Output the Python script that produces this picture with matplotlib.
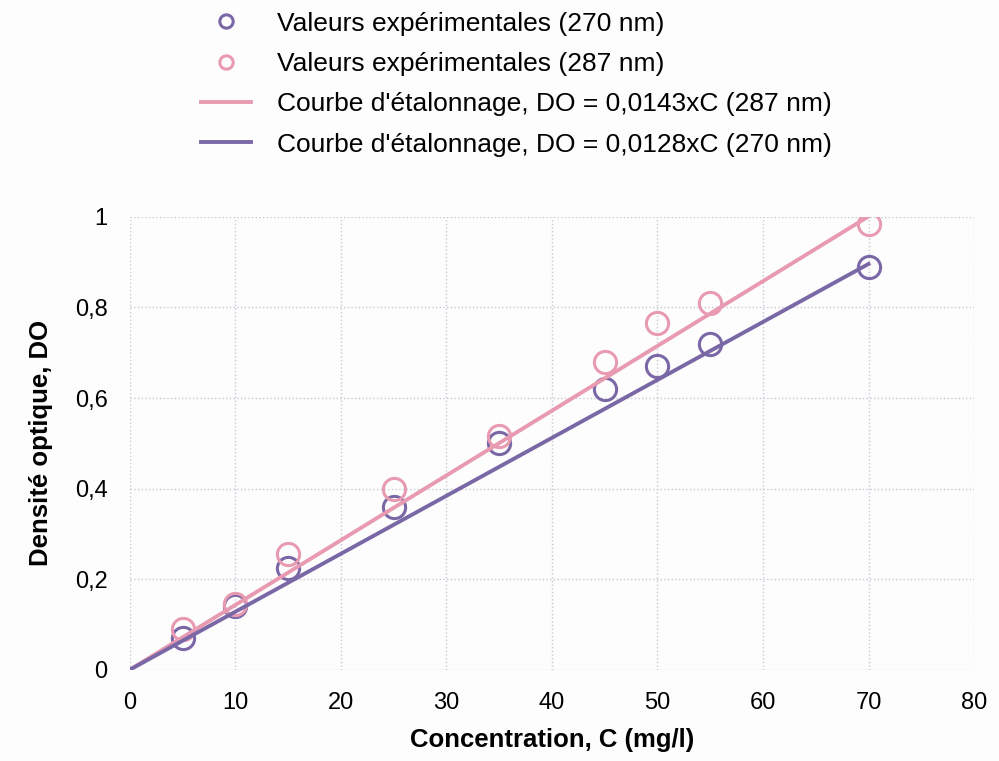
import matplotlib
matplotlib.use("Agg")
import matplotlib.pyplot as plt
import numpy as np

plt.rcParams['font.family'] = ['Liberation Sans', 'DejaVu Sans']

conc = [5, 10, 15, 25, 35, 45, 50, 55, 70]
do_270 = [0.07, 0.14, 0.225, 0.36, 0.50, 0.62, 0.67, 0.72, 0.89]
do_287 = [0.09, 0.145, 0.255, 0.40, 0.515, 0.68, 0.765, 0.81, 0.985]
slope_287 = 0.0143
slope_270 = 0.0128
fit_x = [0, 70]
xticks = [0, 10, 20, 30, 40, 50, 60, 70, 80]
yticks = [0, 0.2, 0.4, 0.6, 0.8, 1.0]
ytick_labels = ['0', '0,2', '0,4', '0,6', '0,8', '1']

c_270 = '#7a68a6'
c_287 = '#e89ab0'

fig = plt.figure(figsize=(9.99, 7.61), dpi=100)
fig.patch.set_facecolor('#fdfdfe')
ax = fig.add_axes([0.13, 0.12, 0.845, 0.595])
ax.set_facecolor('#fdfdfe')

ax.plot(conc, do_270, linestyle='none', marker='o', markersize=16, markerfacecolor='none',
        markeredgecolor=c_270, markeredgewidth=2.2, label='Valeurs expérimentales (270 nm)')
ax.plot(conc, do_287, linestyle='none', marker='o', markersize=16, markerfacecolor='none',
        markeredgecolor=c_287, markeredgewidth=2.2, label='Valeurs expérimentales (287 nm)')
ax.plot(fit_x, [slope_287 * v for v in fit_x], color=c_287, linewidth=2.8,
        label="Courbe d'étalonnage, DO = 0,0143xC (287 nm)")
ax.plot(fit_x, [slope_270 * v for v in fit_x], color=c_270, linewidth=2.8,
        label="Courbe d'étalonnage, DO = 0,0128xC (270 nm)")

ax.set_xlim(0, 80)
ax.set_ylim(0, 1.0)
ax.set_xticks(xticks)
ax.set_xticklabels([str(v) for v in xticks])
ax.set_yticks(yticks)
ax.set_yticklabels(ytick_labels)
ax.tick_params(axis='both', length=0, labelsize=17, pad=16)
ax.grid(True, linestyle=':', color='#c8c8d4', linewidth=1)
for s in ax.spines.values():
    s.set_visible(False)
ax.set_xlabel('Concentration, C (mg/l)', fontsize=18.5, fontweight='bold', labelpad=10)
ax.set_ylabel('Densité optique, DO', fontsize=18.5, fontweight='bold', labelpad=16)

handles, labels = ax.get_legend_handles_labels()
leg = fig.legend(handles, labels, loc='upper left', bbox_to_anchor=(0.177, 1.016), frameon=False,
                 fontsize=19, handlelength=1.9, handletextpad=1.0, labelspacing=0.62,
                 markerscale=0.6)

fig.savefig('out.png', dpi=100, facecolor=fig.get_facecolor())
